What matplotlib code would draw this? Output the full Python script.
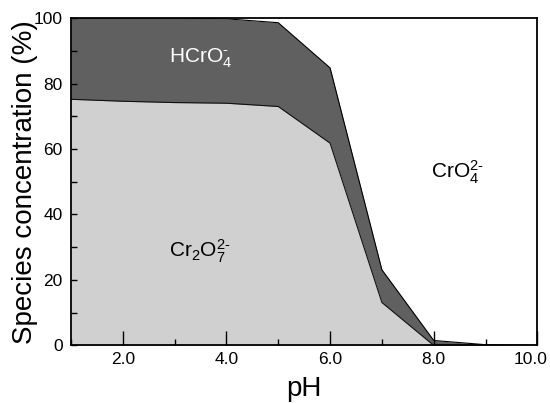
import numpy as np
import matplotlib.pyplot as plt
from matplotlib.ticker import MultipleLocator
from matplotlib.transforms import ScaledTranslation

plt.rcParams['font.family'] = ['Liberation Sans', 'DejaVu Sans']
plt.rcParams['mathtext.fontset'] = 'custom'
plt.rcParams['mathtext.rm'] = 'Liberation Sans'
plt.rcParams['mathtext.it'] = 'Liberation Sans:italic'
plt.rcParams['mathtext.default'] = 'regular'

# pH values and species fractions (%)
ph = [1, 2, 3, 4, 5, 6, 7, 8, 9, 10]
cr2o7 = [75.2, 74.6, 74.2, 74.0, 73.0, 61.8, 13.1, 0.0, 0.0, 0.0]
hcro4 = [24.8, 25.4, 25.8, 25.8, 25.6, 23.0, 10.0, 1.5, 0.2, 0.0]
xticks = [2, 4, 6, 8, 10]
xlabels = ['2.0', '4.0', '6.0', '8.0', '10.0']

lower = np.array(cr2o7)
upper = lower + np.array(hcro4)

fig = plt.figure(figsize=(5.5, 4.03), dpi=100)
ax = fig.add_axes([0.129, 0.143, 0.848, 0.812])

ax.fill_between(ph, 0, lower, color='#d0d0d0', linewidth=0)
ax.fill_between(ph, lower, upper, color='#606060', linewidth=0)
ax.plot(ph, lower, color='#101010', linewidth=0.8)
ax.plot(ph, upper, color='#000000', linewidth=0.8)

ax.text(2.9, 86.3, r'HCrO$_4^{\text{-}}$', color='white', fontsize=15, ha='left', va='baseline')
ax.text(2.9, 27, r'Cr$_2$O$_7^{2\text{-}}$', color='black', fontsize=15, ha='left', va='baseline')
ax.text(7.95, 51, r'CrO$_4^{2\text{-}}$', color='black', fontsize=15, ha='left', va='baseline')

ax.set_xlim(1, 10)
ax.set_ylim(0, 100)
ax.set_xticks(xticks, xlabels)
ax.xaxis.set_minor_locator(MultipleLocator(1))
ax.yaxis.set_major_locator(MultipleLocator(20))
ax.yaxis.set_minor_locator(MultipleLocator(10))
ax.tick_params(axis='x', which='major', direction='in', length=10, width=1, labelsize=12.5, pad=5)
ax.tick_params(axis='x', which='minor', direction='in', length=4, width=1)
ax.tick_params(axis='y', which='major', direction='in', length=4, width=1, labelsize=12.5, pad=6)
ax.tick_params(axis='y', which='minor', direction='in', length=4, width=1)
for s in ax.spines.values():
    s.set_linewidth(1.3)

# last label sits a little left of its tick, as in the original
last = ax.xaxis.get_major_ticks()[-1].label1
last.set_transform(last.get_transform() + ScaledTranslation(-5 / 72, 0, fig.dpi_scale_trans))

ax.set_xlabel('pH', fontsize=20, labelpad=6)
ax.set_ylabel('Species concentration (%)', fontsize=20, labelpad=-3)

fig.savefig('out.png', dpi=100)
